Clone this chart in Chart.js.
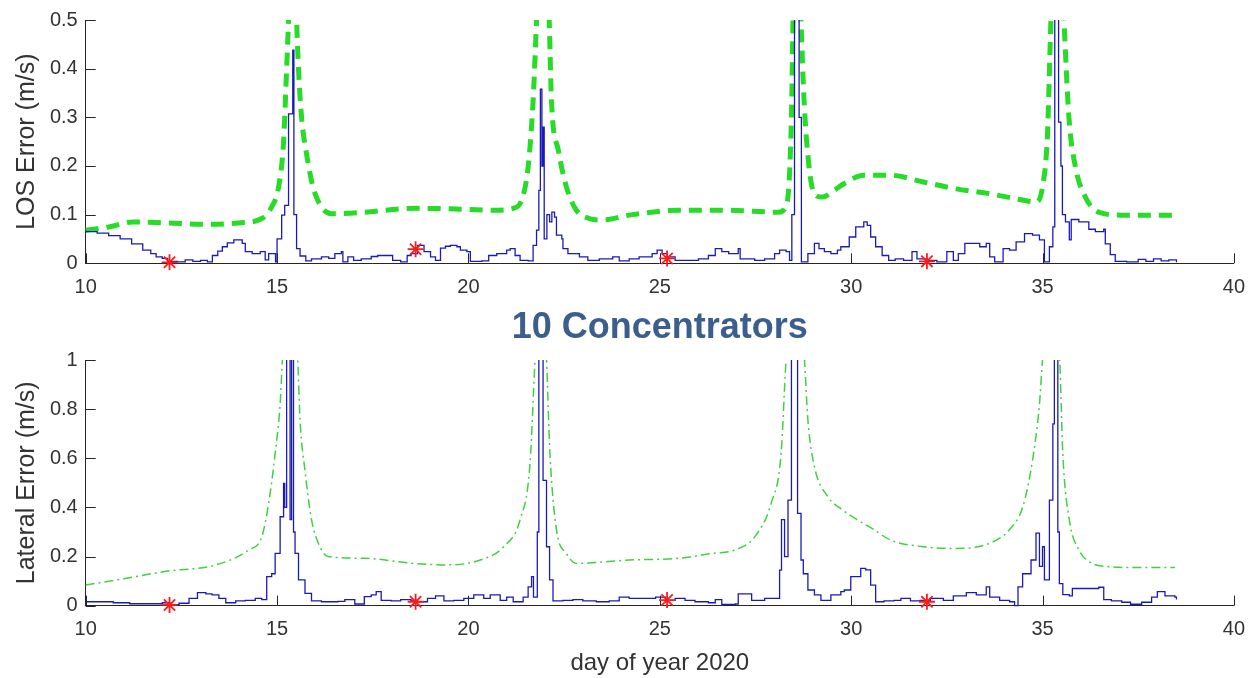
<!DOCTYPE html>
<html>
<head>
<meta charset="utf-8">
<script src="https://cdn.jsdelivr.net/npm/chart.js@4.4.1/dist/chart.umd.min.js"></script>
<style>
  html, body { margin: 0; padding: 0; background: #ffffff; }
  #top { position: absolute; left: 0; top: 0; width: 1257px; height: 300px; }
  #bot { position: absolute; left: 0; top: 300px; width: 1257px; height: 378px; }
</style>
</head>
<body>
<div id="top"><canvas id="c1" width="1257" height="300"></canvas></div>
<div id="bot"><canvas id="c2" width="1257" height="378"></canvas></div>
<script>
// ---------- DATA ----------
const xTicks = [10, 15, 20, 25, 30, 35, 40];
const losTicks = [0, 0.1, 0.2, 0.3, 0.4, 0.5];
const latTicks = [0, 0.2, 0.4, 0.6, 0.8, 1];

// LOS error (blue)
const losDays = [10.0,10.3,10.6,10.9,11.2,11.49,11.7,11.84,12.0,12.14,12.4,12.6,12.8,13.0,13.18,13.31,13.45,13.57,13.7,13.87,14.09,14.17,14.35,14.56,14.69,14.78,14.91,14.96,15.0,15.12,15.2,15.3,15.41,15.44,15.51,15.6,15.75,15.9,16.16,16.35,16.51,16.68,16.72,16.85,17.0,17.2,17.46,17.63,17.89,18.02,18.23,18.4,18.5,18.67,18.84,19.01,19.14,19.27,19.4,19.53,19.7,19.79,19.96,20.05,20.35,20.53,20.74,21.0,21.09,21.22,21.35,21.56,21.69,21.78,21.84,21.88,21.92,21.95,21.98,22.05,22.12,22.18,22.25,22.3,22.44,22.47,22.6,22.9,23.12,23.42,23.77,23.94,24.2,24.46,24.8,24.93,25.06,25.2,25.4,25.75,26.01,26.27,26.45,26.62,26.8,27.05,27.1,27.31,27.48,27.74,28.0,28.13,28.3,28.39,28.45,28.52,28.58,28.64,28.7,28.87,29.04,29.16,29.3,29.47,29.64,29.73,29.95,30.12,30.33,30.42,30.51,30.64,30.81,30.98,31.15,31.37,31.59,31.72,31.98,32.24,32.5,32.67,32.8,32.97,33.19,33.36,33.53,33.62,33.75,33.97,34.14,34.31,34.53,34.74,34.92,35.05,35.18,35.27,35.32,35.38,35.42,35.48,35.52,35.6,35.7,35.75,35.95,36.21,36.38,36.6,36.64,36.77,36.9,37.2,37.5,37.7,37.9,38.1,38.3,38.5];
const losErr = [0.065,0.062,0.057,0.05,0.04,0.027,0.02,0.013,0.01,0.004,0.003,0.007,0.004,0.006,0.003,0.016,0.025,0.034,0.042,0.048,0.041,0.024,0.02,0.024,0.007,0.02,0.02,0.003,0.05,0.099,0.119,0.307,0.438,0.10,0.03,0.015,0.005,0.009,0.013,0.01,0.02,0.024,0.003,0.013,0.006,0.009,0.014,0.016,0.016,0.006,0.003,0.016,0.02,0.037,0.024,0.013,0.006,0.031,0.035,0.037,0.034,0.027,0.024,0.004,0.005,0.016,0.02,0.027,0.03,0.016,0.006,0.005,0.037,0.068,0.15,0.358,0.2,0.28,0.05,0.1,0.085,0.105,0.095,0.058,0.05,0.03,0.02,0.013,0.006,0.009,0.013,0.005,0.009,0.013,0.02,0.027,0.02,0.013,0.006,0.006,0.009,0.016,0.03,0.024,0.02,0.03,0.009,0.009,0.006,0.009,0.02,0.027,0.024,0.006,0.1,0.8,0.9,0.3,0.003,0.02,0.041,0.03,0.024,0.02,0.027,0.034,0.054,0.075,0.085,0.078,0.054,0.034,0.016,0.006,0.009,0.006,0.024,0.009,0.006,0.003,0.024,0.006,0.02,0.041,0.041,0.034,0.041,0.013,0.003,0.03,0.027,0.044,0.061,0.058,0.048,0.003,0.034,0.075,0.8,0.9,0.29,0.2,0.1,0.085,0.048,0.09,0.085,0.07,0.065,0.07,0.04,0.018,0.004,0.003,0.008,0.004,0.009,0.005,0.007,0.002];

// LOS bound (green)
const losBoundDays = [10.0,10.63,11.23,12.1,13.14,14.0,14.6,14.86,15.04,15.17,15.25,15.3,15.4,15.51,15.56,15.64,15.77,15.94,16.16,16.42,17.28,18.58,19.5,20.74,21.17,21.39,21.56,21.69,21.78,21.95,22.11,22.17,22.35,22.56,22.82,23.16,23.51,24.2,25.5,26.79,28.09,28.31,28.44,28.48,28.58,28.69,28.77,28.9,29.04,29.25,29.56,29.82,30.33,31.03,31.89,32.75,33.62,34.48,34.83,35.0,35.13,35.22,35.39,35.56,35.69,35.86,36.12,36.47,37.07,37.94,38.55];
const losBound = [0.068,0.075,0.085,0.083,0.08,0.083,0.092,0.116,0.157,0.25,0.40,0.5,0.75,0.5,0.40,0.30,0.225,0.157,0.116,0.102,0.105,0.113,0.112,0.109,0.113,0.13,0.198,0.334,0.5,0.8,0.5,0.334,0.232,0.157,0.109,0.092,0.089,0.099,0.109,0.109,0.105,0.12,0.30,0.5,0.8,0.5,0.334,0.198,0.143,0.136,0.15,0.164,0.181,0.181,0.167,0.153,0.143,0.13,0.126,0.157,0.266,0.5,0.8,0.5,0.30,0.198,0.136,0.105,0.099,0.099,0.099];

// Lateral error (blue)
const latDays = [10.0,10.72,11.15,11.58,12.0,12.2,12.44,12.7,12.92,13.14,13.3,13.48,13.66,13.92,14.17,14.43,14.6,14.73,14.86,14.95,15.08,15.17,15.2,15.25,15.3,15.34,15.38,15.43,15.47,15.56,15.73,15.9,16.16,16.59,16.77,17.03,17.28,17.46,17.59,17.72,17.98,18.23,18.5,18.67,18.93,19.14,19.36,19.62,19.88,20.14,20.4,20.57,20.83,21.0,21.17,21.43,21.56,21.65,21.7,21.8,21.84,21.9,21.95,22.04,22.12,22.21,22.47,22.73,22.99,23.34,23.68,23.94,24.2,24.54,24.89,25.15,25.4,25.66,25.92,26.27,26.45,26.62,26.97,27.05,27.4,27.74,28.09,28.13,28.18,28.26,28.35,28.44,28.56,28.6,28.69,28.75,28.87,29.04,29.21,29.47,29.73,29.82,29.99,30.25,30.38,30.51,30.64,30.86,31.12,31.3,31.55,31.8,32.07,32.41,32.67,33.01,33.27,33.53,33.62,33.88,34.14,34.27,34.36,34.48,34.7,34.83,34.92,35.0,35.05,35.18,35.27,35.31,35.37,35.4,35.44,35.53,35.7,35.78,36.38,36.47,36.6,36.8,37.07,37.3,37.59,37.85,38.0,38.2,38.46,38.5];
const latErr = [0.016,0.012,0.008,0.008,0.012,0.004,0.01,0.03,0.053,0.048,0.044,0.03,0.012,0.02,0.022,0.03,0.025,0.118,0.13,0.213,0.362,0.498,0.4,1.3,1.3,0.35,1.3,0.3,0.213,0.105,0.05,0.02,0.016,0.018,0.025,0.007,0.037,0.044,0.057,0.022,0.02,0.025,0.02,0.016,0.03,0.04,0.02,0.022,0.03,0.044,0.03,0.044,0.022,0.035,0.016,0.035,0.077,0.118,0.035,0.3,1.3,1.3,0.51,0.24,0.105,0.02,0.022,0.025,0.02,0.016,0.02,0.035,0.03,0.03,0.035,0.022,0.03,0.022,0.016,0.012,0.025,0.005,0.007,0.048,0.022,0.03,0.03,0.145,0.35,0.2,0.43,1.3,1.3,0.376,0.186,0.13,0.064,0.044,0.022,0.044,0.057,0.064,0.118,0.152,0.146,0.084,0.016,0.02,0.022,0.03,0.02,0.022,0.03,0.022,0.04,0.053,0.044,0.077,0.035,0.022,0.016,0.0,0.077,0.13,0.186,0.295,0.16,0.24,0.105,0.43,0.74,1.3,1.3,0.3,0.09,0.045,0.04,0.07,0.07,0.075,0.025,0.02,0.014,0.006,0.014,0.035,0.057,0.04,0.035,0.025];

// Lateral bound (green)
const latBoundDays = [10.0,11.0,12.1,13.4,14.26,14.6,14.78,14.95,15.08,15.14,15.34,15.54,15.6,15.73,15.9,16.12,16.33,17.28,18.58,19.45,20.31,20.92,21.35,21.61,21.74,21.89,22.04,22.13,22.3,22.56,22.82,24.2,25.5,26.37,26.97,27.48,27.91,28.17,28.3,28.54,28.78,28.87,29.04,29.39,29.77,30.16,30.59,31.03,31.89,32.75,33.62,34.14,34.48,34.74,34.92,35.0,35.23,35.45,35.53,35.7,35.95,36.21,36.64,37.5,38.46];
const latBound = [0.084,0.11,0.14,0.166,0.227,0.28,0.417,0.62,0.82,1.0,1.4,1.0,0.756,0.55,0.35,0.24,0.2,0.193,0.172,0.166,0.186,0.24,0.35,0.58,1.0,1.4,1.0,0.62,0.31,0.213,0.172,0.186,0.193,0.213,0.227,0.28,0.417,0.62,1.0,1.4,1.0,0.756,0.566,0.444,0.39,0.35,0.31,0.267,0.24,0.233,0.254,0.31,0.40,0.593,0.82,1.0,1.4,1.0,0.62,0.35,0.227,0.18,0.16,0.155,0.155];

// Marked days (red stars)
const starDays = [12.19, 18.62, 25.19, 31.98];
const starLos = [0.002, 0.029, 0.01, 0.004];
const starLat = [0.003, 0.016, 0.023, 0.016];

// ---------- HELPERS ----------
const pts = (xs, ys) => xs.map((x, i) => ({x: x, y: ys[i]}));
const FONT = "'Liberation Sans', Arial, Helvetica, sans-serif";
const TXT = '#333333';
const AXC = '#262626';
const fmt = v => String(Number(v.toFixed(3)));

const inwardTicks = {
  id: 'inwardTicks',
  beforeDatasetsDraw(chart) {
    const ctx = chart.ctx, a = chart.chartArea, xs = chart.scales.x, ys = chart.scales.y;
    ctx.save();
    ctx.strokeStyle = AXC; ctx.lineWidth = 1;
    ctx.beginPath();
    xs.ticks.forEach(t => {
      const px = Math.round(xs.getPixelForValue(t.value)) + 0.5;
      ctx.moveTo(px, a.bottom); ctx.lineTo(px, a.bottom - 10);
    });
    ys.ticks.forEach(t => {
      const py = Math.round(ys.getPixelForValue(t.value)) + 0.5;
      ctx.moveTo(a.left, py); ctx.lineTo(a.left + 10, py);
    });
    ctx.stroke();
    ctx.restore();
  }
};

function makeOptions(cfg) {
  return {
    responsive: false,
    animation: false,
    devicePixelRatio: 1,
    layout: { padding: cfg.padding },
    plugins: {
      legend: { display: false },
      tooltip: { enabled: false },
      title: cfg.title
    },
    scales: {
      x: {
        type: 'linear', min: 10, max: 40,
        afterBuildTicks: s => { s.ticks = xTicks.map(v => ({value: v})); },
        afterFit: s => { s.height = cfg.xHeight; },
        ticks: { color: TXT, font: { family: FONT, size: 20 }, padding: 12, maxRotation: 0, callback: v => fmt(v) },
        grid: { drawOnChartArea: false, drawTicks: false, color: AXC },
        border: { display: true, color: AXC, width: 1 },
        title: cfg.xTitle
      },
      y: {
        type: 'linear', min: 0, max: cfg.yMax,
        afterBuildTicks: s => { s.ticks = cfg.yTicks.map(v => ({value: v})); },
        afterFit: s => { s.width = 85.7; },
        ticks: { color: TXT, font: { family: FONT, size: 20 }, padding: 8, callback: v => fmt(v) },
        grid: { drawOnChartArea: false, drawTicks: false, color: AXC },
        border: { display: true, color: AXC, width: 1 },
        title: { display: true, text: cfg.yTitle, color: TXT, font: { family: FONT, size: 25 }, padding: { top: 12, bottom: 0 } }
      }
    }
  };
}

function datasets(blueX, blueY, greenX, greenY, starY, greenStyle) {
  return [
    {
      data: pts(starDays, starY), showLine: false, clip: false,
      pointStyle: 'star', pointRadius: 8, pointBorderColor: '#ff1a1a', pointBorderWidth: 1.8,
      pointBackgroundColor: '#ff1a1a'
    },
    {
      data: pts(blueX, blueY), stepped: true, borderColor: '#1a1ab8', borderWidth: 1.3,
      pointRadius: 0, fill: false, clip: { left: 1, right: 1, top: 0, bottom: 2 }
    },
    Object.assign({
      data: pts(greenX, greenY), pointRadius: 0, fill: false, cubicInterpolationMode: 'monotone',
      clip: { left: 3, right: 3, top: 0, bottom: 3 }
    }, greenStyle)
  ];
}

new Chart(document.getElementById('c1'), {
  type: 'line',
  data: { datasets: datasets(losDays, losErr, losBoundDays, losBound, starLos,
    { borderColor: '#26dc26', borderWidth: 5, borderDash: [13, 8] }) },
  options: makeOptions({
    padding: { left: 0, right: 14.3, top: 19, bottom: 0 },
    xHeight: 36.7, yMax: 0.5, yTicks: losTicks, yTitle: 'LOS Error (m/s)',
    title: { display: false },
    xTitle: { display: false }
  }),
  plugins: [inwardTicks]
});

new Chart(document.getElementById('c2'), {
  type: 'line',
  data: { datasets: datasets(latDays, latErr, latBoundDays, latBound, starLat,
    { borderColor: '#3fd23f', borderWidth: 1.5, borderDash: [9, 4, 2, 4] }) },
  options: makeOptions({
    padding: { left: 0, right: 14.3, top: 0, bottom: 0 },
    xHeight: 72.3, yMax: 1, yTicks: latTicks, yTitle: 'Lateral Error (m/s)',
    title: {
      display: true, text: '10 Concentrators', fullSize: false,
      color: '#3b5e8f', font: { family: FONT, size: 36, weight: 'bold' },
      padding: { top: 6.4, bottom: 10.4 }
    },
    xTitle: { display: true, text: 'day of year 2020', color: TXT, font: { family: FONT, size: 24 }, padding: { top: 4, bottom: 0 } }
  }),
  plugins: [inwardTicks]
});
</script>
</body>
</html>
